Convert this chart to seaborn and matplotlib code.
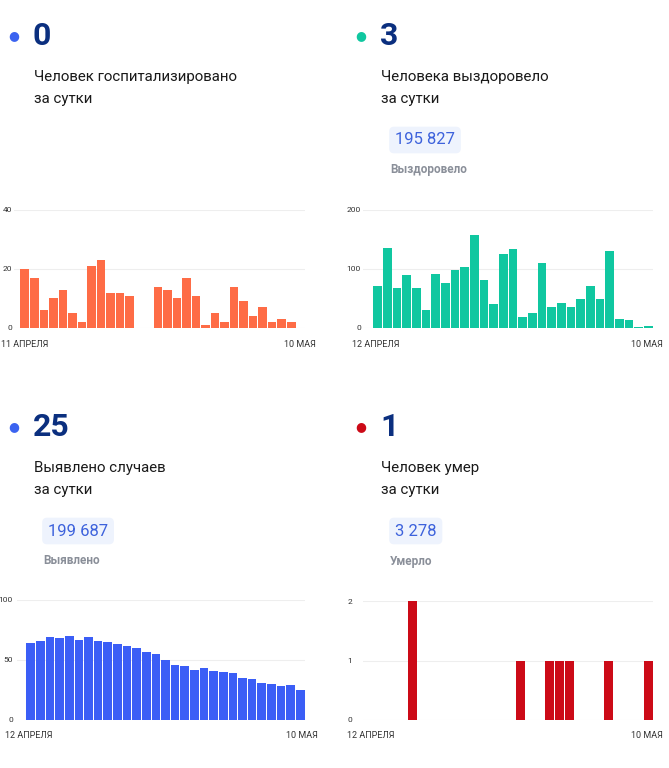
import numpy as np
import pandas as pd
import matplotlib
matplotlib.use("Agg")
import matplotlib.pyplot as plt
import seaborn as sns

W, H = 669, 768

# daily values, one per day (29 slots)
hospitalized = [20, 17, 6, 10, 13, 5, 2, 21, 23, 12, 12, 11, 0, 0,
                14, 13, 10, 17, 11, 1, 5, 2, 14, 9, 4, 7, 2, 3, 2]
recovered = [71, 136, 68, 89, 67, 31, 91, 76, 98, 104, 157, 81, 41, 126,
             134, 18, 26, 111, 36, 42, 35, 49, 72, 49, 131, 16, 13, 2, 3]
cases = [64, 66, 69, 68, 70, 67, 69, 66, 65, 63, 62, 60, 57, 55, 50,
         46, 45, 42, 43, 41, 40, 39, 35, 34, 31, 30, 28, 29, 25]
deaths = [0, 0, 0, 0, 2, 0, 0, 0, 0, 0, 0, 0, 0, 0, 0, 1, 0, 0, 1, 1,
          1, 0, 0, 0, 1, 0, 0, 0, 1]

big_numbers = ["0", "3", "25", "1"]
captions = [("Человек госпитализировано", "за сутки"),
            ("Человека выздоровело", "за сутки"),
            ("Выявлено случаев", "за сутки"),
            ("Человек умер", "за сутки")]
totals = [None, "195 827", "199 687", "3 278"]
total_labels = [None, "Выздоровело", "Выявлено", "Умерло"]
start_labels = ["11 АПРЕЛЯ", "12 АПРЕЛЯ", "12 АПРЕЛЯ", "12 АПРЕЛЯ"]
end_label = "10 МАЯ"
yticks = [[0, 20, 40], [0, 100, 200], [0, 50, 100], [0, 1, 2]]

series = [hospitalized, recovered, cases, deaths]
bar_colors = ["#fe6c46", "#10c7a0", "#3b5ef6", "#cc0a17"]
dot_colors = ["#3b63f0", "#10c7a0", "#3b63f0", "#cc0a17"]

# layout in pixels: (panel x, panel y, axes left, axes right, bar start, bar end, axes top, axes bottom, tick pad px)
layout = [
    (0, 0, 14, 305, 20, 296, 210, 328, 2),
    (347, 0, 363, 653, 373, 653, 210, 328, 2),
    (0, 391, 17, 305, 26, 305, 600, 720, 4),
    (347, 391, 363, 653, 368, 653, 601, 720, 11),
]
date_pos = [(1, 316, 344), (352, 663, 344), (5, 318, 736), (347, 663, 736)]

plt.rcParams['font.family'] = ['Roboto', 'DejaVu Sans']
fig = plt.figure(figsize=(W / 100, H / 100), dpi=100)


def fx(x):
    return x / W


def fy(y):
    return 1 - y / H


for i in range(4):
    px, py, al, ar, bs, be, at, ab, pad = layout[i]
    # header
    fig.text(fx(px + 14), fy(py + 36), "\u25cf", color=dot_colors[i], fontsize=9,
             ha="center", va="center")
    fig.text(fx(px + 33), fy(py + 36), big_numbers[i], color="#0b2f7f", fontsize=23,
             fontweight="bold", ha="left", va="center")
    fig.text(fx(px + 34), fy(py + 77), captions[i][0], color="#1a1a1a", fontsize=10.8,
             ha="left", va="center")
    fig.text(fx(px + 34), fy(py + 99), captions[i][1], color="#1a1a1a", fontsize=10.8,
             ha="left", va="center")
    if totals[i]:
        fig.text(fx(px + 48), fy(py + 140), totals[i], color="#3d62dc", fontsize=12,
                 ha="left", va="center",
                 bbox=dict(boxstyle="round,pad=0.35,rounding_size=0.3",
                           facecolor="#eef3fd", edgecolor="none"))
        fig.text(fx(px + 43), fy(py + 170), total_labels[i], color="#8a8f99", fontsize=8.5,
                 fontweight="bold", ha="left", va="center")

    # bars
    n = len(series[i])
    slot = (be - bs) / n
    lo = -0.5 - (bs - al) / slot
    hi = n - 0.5 + (ar - be) / slot
    ax = fig.add_axes([fx(al), fy(ab), (ar - al) / W, (ab - at) / H])
    df = pd.DataFrame({"day": np.arange(n), "value": series[i]})
    sns.barplot(data=df, x="day", y="value", color=bar_colors[i], width=0.9,
                saturation=1, linewidth=0, ax=ax, zorder=3)
    ax.set_xlim(lo, hi)
    ax.set_ylim(0, yticks[i][-1])
    ax.set_yticks(yticks[i])
    ax.set_xticks([])
    ax.set_xlabel("")
    ax.set_ylabel("")
    ax.tick_params(axis="y", length=0, pad=pad * 0.72, labelsize=6, labelcolor="#333333")
    for s in ax.spines.values():
        s.set_visible(False)
    ax.grid(axis="y", color="#eeeeee", linewidth=0.8, zorder=0)
    ax.set_axisbelow(True)
    ax.patch.set_alpha(0)

    x0, x1, yd = date_pos[i]
    fig.text(fx(x0), fy(yd), start_labels[i], color="#333333", fontsize=6.5,
             ha="left", va="center")
    fig.text(fx(x1), fy(yd), end_label, color="#333333", fontsize=6.5,
             ha="right", va="center")

fig.savefig("out.png", dpi=100, facecolor="white")
